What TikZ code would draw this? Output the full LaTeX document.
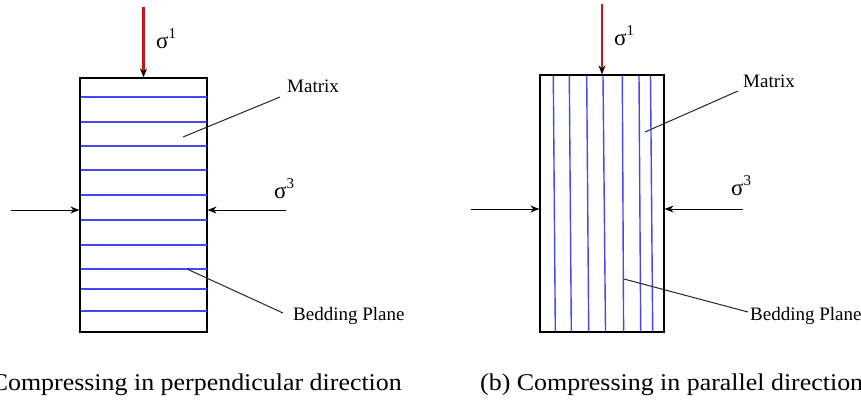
\documentclass[tikz,border=0pt]{standalone}
\usepackage{fontspec}
\setmainfont{Liberation Serif}
\usetikzlibrary{arrows.meta}
\definecolor{bedblue}{RGB}{70,70,245}
\definecolor{loadred}{RGB}{205,20,20}
\newcommand{\sigsup}[1]{σ\raisebox{0.4em}{\fontsize{15}{15}\selectfont #1}}
\begin{document}
\begin{tikzpicture}[x=1pt,y=-1pt,
  specimen/.style={draw=black,line width=1.2pt,inner sep=0pt,fill=none},
  bed/.style={draw=bedblue,line width=1.4pt},
  load/.style={draw=loadred,line width=2.6pt,-{Stealth[black,length=9pt,width=7pt]}},
  side/.style={draw=black,line width=1pt,-{Stealth[length=9pt,width=7pt]}},
  leader/.style={draw=black!85,line width=1pt},
  lbl/.style={inner sep=0pt,font=\fontsize{19}{22}\selectfont},
  sig/.style={inner sep=0pt,font=\fontsize{23}{26}\selectfont},
  captext/.style={inner sep=0pt,font=\fontsize{24}{28}\selectfont}]
\useasboundingbox (0,0) rectangle (861,405);

% ---------- (a) ----------
\node[specimen,minimum width=127pt,minimum height=254pt] (boxA) at (143.5,205) {};
\foreach \yy in {97,122,146,170,195,220,245,269,289,311}
  \draw[bed] (81,\yy) -- (207,\yy);
\coordinate (topA) at (143.5,7);
\draw[load] (topA) -- (boxA.north);
\coordinate (lA) at (11,210);
\coordinate (rA) at (286,210);
\draw[side] (lA) -- (lA -| boxA.west);
\draw[side] (rA) -- (rA -| boxA.east);
\node[sig,anchor=base west] (s1A) at (156,48) {\sigsup{1}};
\node[sig,anchor=base west] (s3A) at (274,198) {\sigsup{3}};
\node[lbl,anchor=base west] (matA) at (287,92) {Matrix};
\node[lbl,anchor=base west] (bedA) at (293,320) {Bedding Plane};
\coordinate (mA1) at (183,137);
\coordinate (mA2) at (280,97);
\draw[leader] (mA1) -- (mA2);
\coordinate (bA1) at (187,269);
\coordinate (bA2) at (283,313);
\draw[leader] (bA1) -- (bA2);
\node[captext,anchor=base east] (capA) at (402,390) {\scalebox{1.08}[1]{(a) Compressing in perpendicular direction}};

% ---------- (b) ----------
\node[specimen,minimum width=124pt,minimum height=257pt] (boxB) at (602,203.5) {};
\foreach \xa/\xb in {553.3/555.3,569.3/571.3,586.7/588.7,603/605.5,622.3/623.6,639/640.7,650.5/652.7}
  \draw[bed] (\xa,76) -- (\xb,331);
\coordinate (topB) at (602,4);
\draw[load] (topB) -- (boxB.north);
\coordinate (lB) at (471,209);
\coordinate (rB) at (743,209);
\draw[side] (lB) -- (lB -| boxB.west);
\draw[side] (rB) -- (rB -| boxB.east);
\node[sig,anchor=base west] (s1B) at (614,45) {\sigsup{1}};
\node[sig,anchor=base west] (s3B) at (731,195) {\sigsup{3}};
\node[lbl,anchor=base west] (matB) at (743,87) {Matrix};
\node[lbl,anchor=base west] (bedB) at (750,320) {Bedding Plane};
\coordinate (mB1) at (645,132);
\coordinate (mB2) at (738,91);
\draw[leader] (mB1) -- (mB2);
\coordinate (bB1) at (624,279);
\coordinate (bB2) at (748,312);
\draw[leader] (bB1) -- (bB2);
\node[captext,anchor=base west] (capB) at (480,390) {\scalebox{1.08}[1]{(b) Compressing in parallel direction}};
\end{tikzpicture}
\end{document}
